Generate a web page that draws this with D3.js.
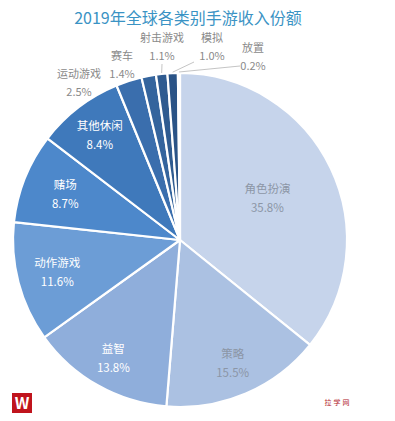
<!DOCTYPE html>
<html>
<head>
<meta charset="utf-8">
<script src="https://cdn.jsdelivr.net/npm/d3@7"></script>
<style>
  body { margin: 0; background: #fff; }
  svg text { font-family: "Noto Sans CJK SC", "Noto Sans", sans-serif; }
</style>
</head>
<body>
<div id="chart"></div>
<script>
// data (clockwise from 12 o'clock)
var categories = ["角色扮演", "策略", "益智", "动作游戏", "赌场", "其他休闲", "运动游戏", "赛车", "射击游戏", "模拟", "放置"];
var shares = [35.8, 15.5, 13.8, 11.6, 8.7, 8.4, 2.5, 1.4, 1.1, 1.0, 0.2];
var colors = ["#c6d4eb", "#abc1e2", "#8faedb", "#6c9dd6", "#4d88cb", "#3f79bb", "#3a6ead", "#34649d", "#2f5b90", "#2a5386", "#264c7b"];
var darkText = [false, false, true, true, true, true];

var svgWidth = 395, svgHeight = 421;
var cx = 180, cy = 240, radius = 167;

var svg = d3.select("#chart").append("svg")
    .attr("width", svgWidth)
    .attr("height", svgHeight);

svg.append("text")
    .attr("x", 188).attr("y", 24)
    .attr("text-anchor", "middle")
    .attr("font-size", 16)
    .attr("fill", "#3a93c4")
    .text("2019年全球各类别手游收入份额");

var data = categories.map(function(c, i) { return { name: c, value: shares[i], i: i }; });

var pie = d3.pie().sort(null).value(d => d.value);
var arc = d3.arc().innerRadius(0).outerRadius(radius);
var arcs = pie(data);

var g = svg.append("g").attr("transform", `translate(${cx}, ${cy})`);

g.selectAll("path")
    .data(arcs)
    .enter()
    .append("path")
    .attr("d", arc)
    .attr("fill", d => colors[d.data.i])
    .attr("stroke", "#fff")
    .attr("stroke-width", 2.2)
    .attr("stroke-linejoin", "round");

// inside labels for big slices (label distance as fraction of radius)
var labelR = [0.58, 0.8, 0.81, 0.76, 0.74, 0.79];
var inside = arcs.slice(0, 6);
var insideLabels = g.selectAll("g.inlabel")
    .data(inside)
    .enter()
    .append("g")
    .attr("class", "inlabel")
    .attr("transform", function(d, i) {
        var r = radius * labelR[i];
        var c = d3.arc().innerRadius(r).outerRadius(r).centroid(d);
        return `translate(${c})`;
    });

insideLabels.append("text")
    .attr("text-anchor", "middle")
    .attr("y", -5)
    .attr("font-size", 11.5)
    .attr("fill", d => darkText[d.data.i] ? "#fff" : "#8c96a6")
    .text(d => d.data.name);

insideLabels.append("text")
    .attr("text-anchor", "middle")
    .attr("y", 14)
    .attr("font-size", 11.5)
    .attr("fill", d => darkText[d.data.i] ? "#fff" : "#8c96a6")
    .text(d => d.data.value.toFixed(1) + "%");

// outside labels for small slices
var outPos = [[79, 78], [122, 60], [162, 42], [212, 42], [253, 52]];
var outside = arcs.slice(6);
var edgeArc = d3.arc().innerRadius(radius).outerRadius(radius);

outside.forEach(function(d, k) {
    var p = outPos[k];
    var t = svg.append("g").attr("transform", `translate(${p[0]}, ${p[1]})`);
    t.append("text")
        .attr("text-anchor", "middle")
        .attr("font-size", 11)
        .attr("fill", "#8a8a8a")
        .text(d.data.name);
    t.append("text")
        .attr("text-anchor", "middle")
        .attr("y", 18)
        .attr("font-size", 11)
        .attr("fill", "#8a8a8a")
        .text(d.data.value.toFixed(1) + "%");
});

// leader lines for the three smallest slices
var leaders = [
    { k: 2, from: [162, 64] },
    { k: 3, from: [194, 62] },
    { k: 4, from: [240, 66] }
];
leaders.forEach(function(l) {
    var c = edgeArc.centroid(outside[l.k]);
    svg.append("line")
        .attr("x1", l.from[0]).attr("y1", l.from[1])
        .attr("x2", cx + c[0]).attr("y2", cy + c[1] - 1)
        .attr("stroke", "#b5b5b5")
        .attr("stroke-width", 0.8);
});

// logo bottom-left
svg.append("rect")
    .attr("x", 12).attr("y", 393)
    .attr("width", 20).attr("height", 20)
    .attr("fill", "#c0141d");
svg.append("text")
    .attr("x", 22).attr("y", 409)
    .attr("text-anchor", "middle")
    .attr("font-size", 16)
    .attr("font-weight", "bold")
    .attr("fill", "#fff")
    .attr("font-family", "DejaVu Sans")
    .text("W");

// watermark bottom-right
svg.append("text")
    .attr("x", 338).attr("y", 405)
    .attr("text-anchor", "middle")
    .attr("font-size", 7)
    .attr("fill", "#b0202a")
    .attr("letter-spacing", 2)
    .text("拉学网");
</script>
</body>
</html>
